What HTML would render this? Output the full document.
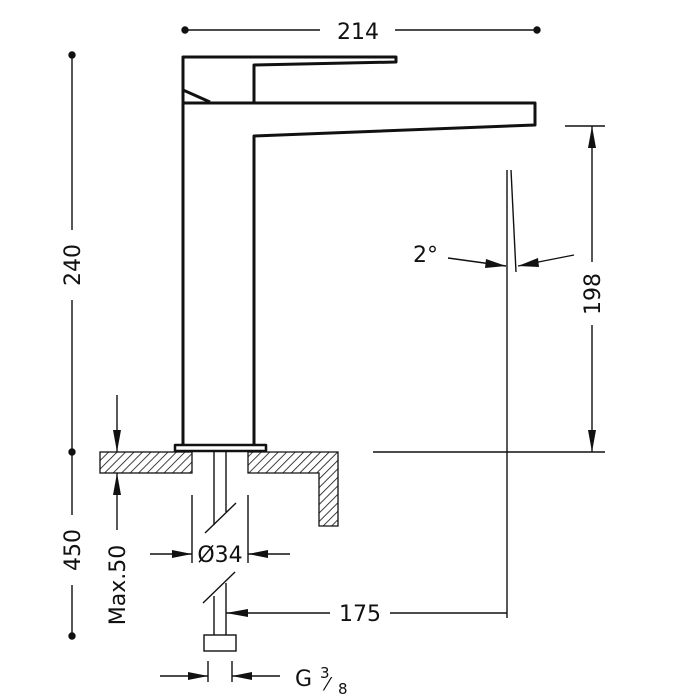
<!DOCTYPE html>
<html><head><style>
html,body{margin:0;padding:0;background:#fff;}
svg{display:block;}
text{font-family:"DejaVu Sans","Liberation Sans",sans-serif;fill:#111;}
</style></head><body>
<svg width="700" height="700" viewBox="0 0 700 700" xmlns="http://www.w3.org/2000/svg">
<defs>
<pattern id="h" width="6" height="6" patternUnits="userSpaceOnUse" patternTransform="rotate(45)">
<rect width="6" height="6" fill="#fff"/><line x1="0" y1="0" x2="0" y2="6" stroke="#111" stroke-width="1.6"/>
</pattern>
</defs>
<g stroke="#111" fill="none" stroke-width="1.4">
<line x1="185" y1="30" x2="320" y2="30"/><line x1="395" y1="30" x2="537" y2="30"/>
<circle cx="185" cy="30" r="3" fill="#111"/><circle cx="537" cy="30" r="3" fill="#111"/>
<line x1="72" y1="55" x2="72" y2="230"/><line x1="72" y1="300" x2="72" y2="515"/><line x1="72" y1="585" x2="72" y2="636"/>
<circle cx="72" cy="55" r="3" fill="#111"/><circle cx="72" cy="452" r="3" fill="#111"/><circle cx="72" cy="636" r="3" fill="#111"/>
</g>
<g stroke="#111" fill="none" stroke-width="3" stroke-linejoin="round">
<path d="M183 102 L183 57 L396 57 L396 62 L254 65 L254 102"/>
<path d="M183 90 L210 102"/>
<path d="M183 445 L183 103 L535 103 L535 125 L254 136 L254 445"/>
<rect x="175" y="445" width="91" height="6" stroke-width="2.5"/>
</g>
<rect x="100" y="452" width="92" height="21" fill="url(#h)" stroke="#111" stroke-width="1.3"/>
<path d="M248 452 L338 452 L338 526 L319 526 L319 473 L248 473 Z" fill="url(#h)" stroke="#111" stroke-width="1.3"/>
<g stroke="#111" fill="none" stroke-width="1.4">
<line x1="214" y1="452" x2="214" y2="525"/><line x1="226" y1="452" x2="226" y2="512"/>
<line x1="205" y1="533" x2="236" y2="503"/>
<line x1="214" y1="596" x2="214" y2="635"/><line x1="226" y1="583" x2="226" y2="635"/>
<line x1="203" y1="603" x2="235" y2="572"/>
<rect x="204" y="635" width="32" height="16"/>
<line x1="192" y1="495" x2="192" y2="563"/><line x1="248" y1="495" x2="248" y2="563"/>
<line x1="150" y1="554" x2="192" y2="554"/><line x1="248" y1="554" x2="290" y2="554"/>
<line x1="208" y1="661" x2="208" y2="682"/><line x1="232" y1="661" x2="232" y2="682"/>
<line x1="160" y1="676" x2="208" y2="676"/><line x1="232" y1="676" x2="280" y2="676"/>
<line x1="226" y1="613" x2="330" y2="613"/><line x1="390" y1="613" x2="507" y2="613"/>
<line x1="117" y1="395" x2="117" y2="452"/><line x1="117" y1="473" x2="117" y2="530"/>
<line x1="507" y1="170" x2="507" y2="618"/><line x1="511" y1="170" x2="516" y2="272"/>
<line x1="448" y1="258" x2="506" y2="266"/><line x1="518" y1="266" x2="574" y2="255"/>
<line x1="565" y1="126" x2="605" y2="126"/><line x1="373" y1="452" x2="605" y2="452"/>
<line x1="592" y1="126" x2="592" y2="262"/><line x1="592" y1="325" x2="592" y2="452"/>
</g>
<g fill="#111">
<polygon points="192,554 172,550 172,558"/><polygon points="248,554 268,550 268,558"/>
<polygon points="208,676 188,672 188,680"/><polygon points="232,676 252,672 252,680"/>
<polygon points="226,613 248,609 248,617"/>
<polygon points="117,452 113,430 121,430"/><polygon points="117,473 113,495 121,495"/>
<polygon points="506,266 486,259 485,268"/><polygon points="518,266 538,258 539,267"/>
<polygon points="592,126 588,148 596,148"/><polygon points="592,452 588,430 596,430"/>
</g>
<g font-size="22">
<text x="358" y="39" text-anchor="middle">214</text>
<text transform="translate(80,265) rotate(-90)" text-anchor="middle">240</text>
<text transform="translate(80,550) rotate(-90)" text-anchor="middle">450</text>
<text transform="translate(125,585) rotate(-90)" text-anchor="middle">Max.50</text>
<text transform="translate(600,294) rotate(-90)" text-anchor="middle">198</text>
<text x="220" y="562" text-anchor="middle">Ø34</text>
<text x="360" y="621" text-anchor="middle">175</text>
<text x="413" y="262">2°</text>
<text x="295" y="686">G</text>
<text x="320" y="678" font-size="15">3</text>
<text x="326" y="690" font-size="18">⁄</text>
<text x="338" y="694" font-size="15">8</text>
</g>
</svg>
</body></html>
